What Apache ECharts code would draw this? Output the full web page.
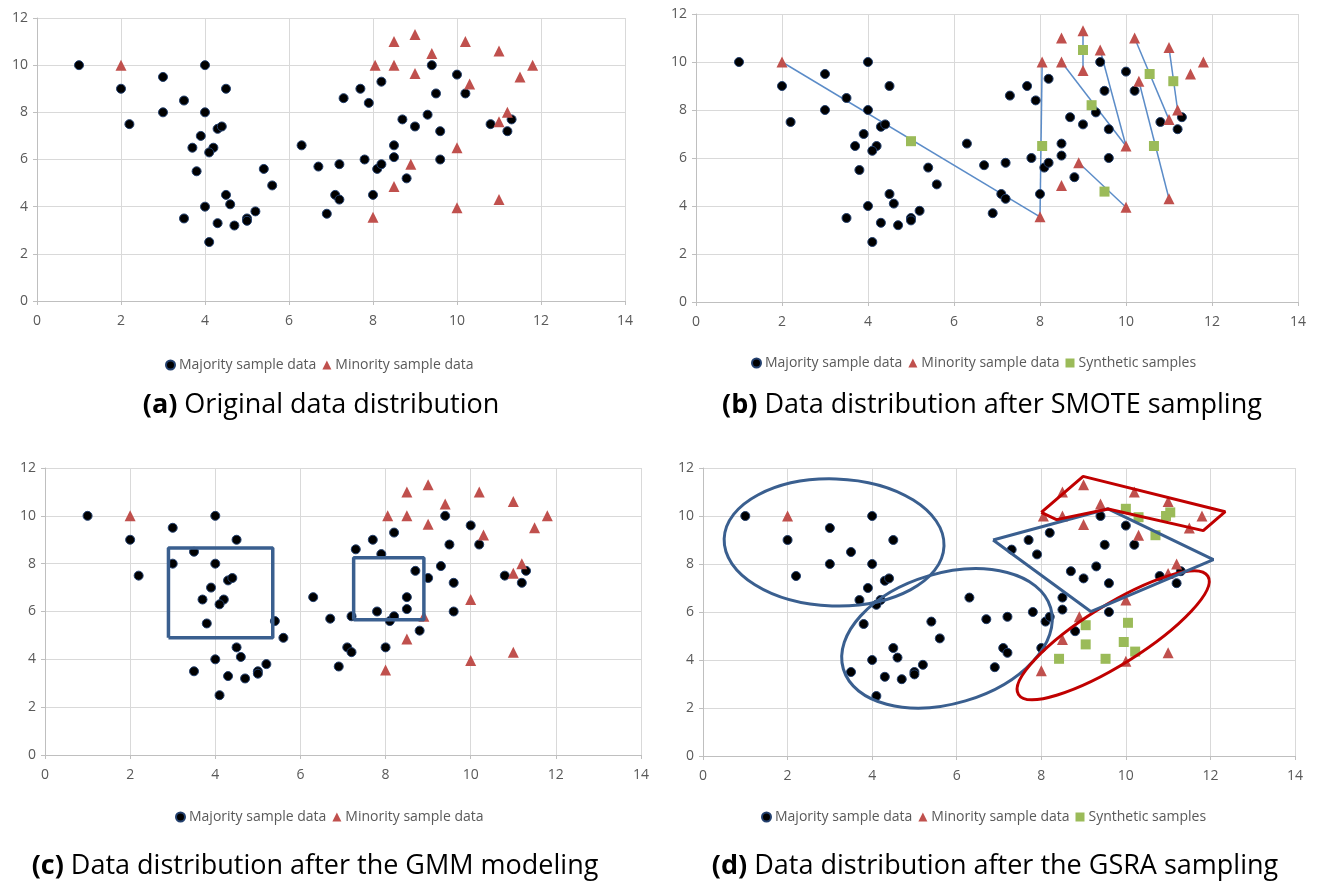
<!DOCTYPE html>
<html><head><meta charset="utf-8">
<script src="https://cdn.jsdelivr.net/npm/echarts@6/dist/echarts.min.js"></script>
<style>html,body{margin:0;padding:0;background:#fff;}#c{width:1318px;height:885px;}</style>
</head><body><div id="c"></div>
<script>
// ---------------- data ----------------
const majority = [
  [1,10],[2,9],[2.2,7.5],[3,9.5],[3,8],[3.5,8.5],[4,10],[4.5,9],[4,8],[4.3,7.3],[4.4,7.4],
  [3.9,7.0],[3.7,6.5],[4.2,6.5],[4.1,6.3],[3.8,5.5],[5.4,5.6],[5.6,4.9],[4.5,4.5],[4.6,4.1],
  [4.0,4.0],[3.5,3.5],[4.3,3.3],[4.7,3.2],[5.0,3.5],[5.0,3.4],[5.2,3.8],[4.1,2.5],
  [6.3,6.6],[6.7,5.7],[7.2,5.8],[7.1,4.5],[7.2,4.3],[6.9,3.7],[7.3,8.6],[7.7,9.0],[7.9,8.4],
  [8.2,9.3],[7.8,6.0],[8.1,5.6],[8.2,5.8],[8.5,6.6],[8.5,6.1],[8.0,4.5],[8.8,5.2],[8.7,7.7],
  [9.0,7.4],[9.3,7.9],[9.4,10],[9.5,8.8],[9.6,7.2],[9.6,6.0],[10.0,9.6],[10.2,8.8],
  [10.8,7.5],[11.3,7.7],[11.2,7.2]
];
const minority = [
  [2,10],[8.05,10],[8.5,10],[8.5,11.0],[9.0,11.3],[9.0,9.65],[9.4,10.5],[10.2,11.0],[10.3,9.2],
  [11.0,10.6],[11.5,9.5],[11.8,10],[11.2,8.0],[11.0,7.6],[10.0,6.5],[8.9,5.8],[8.5,4.85],
  [8.0,3.55],[10.0,3.95],[11.0,4.3]
];
const smoteSynthetic = [
  [9.0,10.5],[5.0,6.7],[8.05,6.5],[9.2,8.2],[10.55,9.5],[11.1,9.2],[10.65,6.5],[9.5,4.6]
];
const smoteLinks = [
  [[2,10],[8.0,3.55]], [[8.0,3.55],[8.05,10]], [[9.0,11.3],[9.0,9.65]], [[8.5,10],[10.0,6.5]],
  [[9.4,10.5],[10.0,6.5]], [[10.2,11.0],[11.0,7.6]], [[11.0,10.6],[11.2,8.0]],
  [[10.3,9.2],[11.0,4.3]], [[8.9,5.8],[10.0,3.95]]
];
// GMM boxes: [xMin, yMin, xMax, yMax]
const gmmBoxes = [[2.9,4.9,5.35,8.65],[7.25,5.65,8.9,8.25]];
const gsraSynthetic = [
  [10.0,10.3],[10.3,9.95],[10.95,10.0],[11.05,10.15],[10.7,9.2],
  [9.05,5.45],[10.05,5.55],[9.05,4.65],[9.95,4.75],[10.22,4.35],[8.42,4.05],[9.52,4.05]
];
// ellipses: [centerX, centerY, halfWidth (x units), halfHeight (y units), y-offset of rightmost point]
const gsraBlueEllipses = [[3.1,8.9,2.6,2.65,-0.1],[5.77,4.9,2.49,2.9,0.8]];
const gsraRedEllipses = [[9.7,5.03,2.27,2.68,2.26]];
const gsraBluePolygon = [[6.86,9.0],[9.58,10.3],[12.07,8.18],[9.17,6.02]];
const gsraRedPolygon = [[8.0,10.15],[8.99,11.65],[12.35,10.18],[11.83,9.39],[9.58,10.29],[8.36,9.85]];

const captions = [
  ['(a)',' Original data distribution'],
  ['(b)',' Data distribution after SMOTE sampling'],
  ['(c)',' Data distribution after the GMM modeling'],
  ['(d)',' Data distribution after the GSRA sampling']
];
const NAME_MAJ = 'Majority sample data', NAME_MIN = 'Minority sample data', NAME_SYN = 'Synthetic samples';

// ---------------- layout/styles ----------------
const FONT = 'Open Sans';
const grids = [
  {left:37, top:18, width:588, height:283},
  {left:696, top:14, width:602, height:288},
  {left:45, top:468, width:596, height:287},
  {left:703, top:468, width:592, height:288}
];
const C_MIN = '#C0504D', C_SYN = '#9BBB59', C_BLUE = '#3A5F8F', C_RED = '#C00000';

function axisCommon(){
  return {
    type:'value', min:0, interval:2,
    axisLine:{show:true, lineStyle:{color:'#BFBFBF', width:1}},
    axisTick:{show:true, length:4, lineStyle:{color:'#BFBFBF'}},
    splitLine:{show:true, lineStyle:{color:'#D9D9D9', width:1}},
    axisLabel:{color:'#595959', fontSize:14, fontFamily:FONT}
  };
}
const xAxes = [], yAxes = [];
for (let i=0;i<4;i++){
  const xa = axisCommon(); xa.gridIndex=i; xa.max=14; xa.axisLabel.margin=13;
  const ya = axisCommon(); ya.gridIndex=i; ya.max=12; ya.axisLabel.margin=9;
  xAxes.push(xa); yAxes.push(ya);
}

const series = [];
function scatter(i, name, data, symbol, size, color, border){
  series.push({
    type:'scatter', name, xAxisIndex:i, yAxisIndex:i, data, symbol, symbolSize:size,
    itemStyle:{color, borderColor:border||color, borderWidth: border?1:0, opacity:1},
    z:5, silent:true
  });
}
function poly(i, pts, color, width){
  series.push({
    type:'line', xAxisIndex:i, yAxisIndex:i, data: pts.concat([pts[0]]), symbol:'none',
    lineStyle:{color, width}, z:8, silent:true, animation:false
  });
}
function ellipses(i, data, color){
  series.push({
    type:'custom', xAxisIndex:i, yAxisIndex:i, data, z:8, silent:true, clip:false,
    encode:{x:0, y:1},
    renderItem:function(params, api){
      const cx=api.value(0), cy=api.value(1), w=api.value(2), h=api.value(3), k=api.value(4);
      const c = api.coord([cx,cy]);
      const sx = api.size([1,0])[0], sy = api.size([0,1])[1];
      const Pxx=w*w*sx*sx, Pyy=h*h*sy*sy, Pxy=-(k*w)*sx*sy;
      const m=(Pxx+Pyy)/2, d=Math.sqrt(Math.pow((Pxx-Pyy)/2,2)+Pxy*Pxy);
      const a=Math.sqrt(m+d), b=Math.sqrt(Math.max(m-d,0));
      const th=0.5*Math.atan2(2*Pxy, Pxx-Pyy);
      return {type:'ellipse', x:c[0], y:c[1], rotation:-th,
        shape:{cx:0,cy:0,rx:a,ry:b}, style:{fill:null, stroke:color, lineWidth:3}};
    }
  });
}

for (let i=0;i<4;i++){
  scatter(i, NAME_MAJ, majority, 'circle', 9, '#000000', '#23406E');
  scatter(i, NAME_MIN, minority, 'triangle', 11, C_MIN);
}
// (b)
series.push({
  type:'lines', coordinateSystem:'cartesian2d', xAxisIndex:1, yAxisIndex:1,
  data: smoteLinks.map(l=>({coords:l})), lineStyle:{color:'#5B8CC8', width:1.5, opacity:1},
  z:3, silent:true
});
scatter(1, NAME_SYN, smoteSynthetic, 'rect', 10, C_SYN);
// (c)
gmmBoxes.forEach(b=>poly(2, [[b[0],b[1]],[b[2],b[1]],[b[2],b[3]],[b[0],b[3]]], C_BLUE, 3.5));
// (d)
scatter(3, NAME_SYN, gsraSynthetic, 'rect', 10, C_SYN);
ellipses(3, gsraBlueEllipses, C_BLUE);
ellipses(3, gsraRedEllipses, C_RED);
poly(3, gsraBluePolygon, C_BLUE, 3);
poly(3, gsraRedPolygon, C_RED, 3);

const legendPos = [[160,353],[746,351],[170,805],[756,805]];
const legends = legendPos.map((p,i)=>({
  left:p[0], top:p[1], itemWidth:9, itemHeight:9, itemGap:6, selectedMode:false,
  data: (i%2===0)?[NAME_MAJ,NAME_MIN]:[NAME_MAJ,NAME_MIN,NAME_SYN],
  textStyle:{color:'#595959', fontSize:14, fontFamily:FONT, padding:[0,0,0,-1]}
}));

const capPos = [[321,405],[992,405],[315,866],[995,866]];
const graphic = captions.map((c,i)=>({
  type:'text', x:capPos[i][0], y:capPos[i][1],
  style:{
    text:'{b|'+c[0]+'}{n|'+c[1]+'}',
    rich:{b:{fontWeight:'bold', fontSize:27, fontFamily:FONT, fill:'#000'},
          n:{fontSize:27, fontFamily:FONT, fill:'#000'}},
    align:'center', verticalAlign:'middle'
  }
}));

const chart = echarts.init(document.getElementById('c'), null, {renderer:'canvas'});
chart.setOption({
  animation:false, backgroundColor:'#ffffff',
  grid:grids, xAxis:xAxes, yAxis:yAxes, legend:legends, series, graphic
});
</script></body></html>
